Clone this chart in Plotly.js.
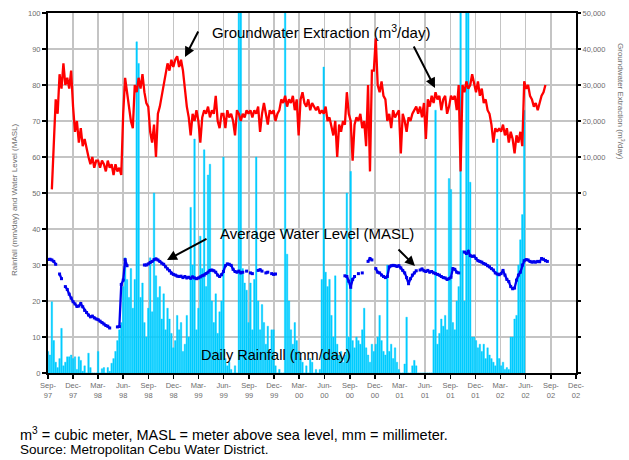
<!DOCTYPE html>
<html><head><meta charset="utf-8">
<script src="https://cdn.plot.ly/plotly-3.0.1.min.js"></script>
<style>html,body{margin:0;padding:0;background:#fff;} #chart{width:629px;height:460px;}</style>
</head><body><div id="chart"></div>
<script>
// weekly samples starting 1 Sep 1997
const startDate = '1997-09-01';
const weekMs = 7 * 24 * 3600 * 1000;

const quarterTicks = ['1997-09-01','1997-12-01','1998-03-01','1998-06-01','1998-09-01','1998-12-01',
  '1999-03-01','1999-06-01','1999-09-01','1999-12-01','2000-03-01','2000-06-01','2000-09-01','2000-12-01',
  '2001-03-01','2001-06-01','2001-09-01','2001-12-01','2002-03-01','2002-06-01','2002-09-01','2002-12-01'];
const quarterLabels = ['Sep-<br>97','Dec-<br>97','Mar-<br>98','Jun-<br>98','Sep-<br>98','Dec-<br>98',
  'Mar-<br>99','Jun-<br>99','Sep-<br>99','Dec-<br>99','Mar-<br>00','Jun-<br>00','Sep-<br>00','Dec-<br>00',
  'Mar-<br>01','Jun-<br>01','Sep-<br>01','Dec-<br>01','Mar-<br>02','Jun-<br>02','Sep-<br>02','Dec-<br>02'];

// Daily rainfall (mm/day), weekly readings
const rainfall = [
  6,5,19.8,9,3,1.5,4,12.4,2,3,4.5,4.5,5,
  4,4.5,1,4.5,3.5,0.5,2,0,5.5,1.5,0,0,0,
  6,0,1.2,1.5,0,1.5,0.5,2.7,4,6,9,12,14,
  24,32,26,21,29,18,26,92,86,21,25,14,10,
  18,32,17,50,27,21,24,15,22,12,18,15,11,
  7,9,16,12,14,6,8,16,10,46,30,65,12,
  18,38,29,62,24,55,58,20,14,22,11,17,20,
  60,4,2,3,1,0,2,0,105,105,29,25,23,
  14,25,12,26,60,20,12,19,14,8,13,6,12,
  12,2,0,1,0,0,105,33,20,12,8,14,9,
  6,4,3,0,2,0,4,3,0,1,0,1,26,
  85,28,24,26,16,10,27,8,5,6,3,5,50,
  10,56,9,7,10,9,8,12,18,7,5,3,8,
  6,8,10,16,9,6,5,30,6,8,4,7,3,
  1,0,0,2.5,15.5,0,0,2,3.5,2,0,0,0,
  0,0,0,0,0,12,73,8,11,15,13,16,12,
  54,51,14,12,20,24,105,34,20,105,105,53,10,
  10,9,7,8,6,8,4,7,5,4,3,2,65,
  4,2,3,1,1.5,1,10,10,15,16,30,37,44,
  73
];

// Average water level (MASL), weekly readings
const waterLevel = [
  31.5,31.6,31.4,31.0,30.2,null,27.5,26.2,null,24.0,23.2,21.9,20.8,
  19.8,19.2,18.5,18.6,19.3,18.4,17.4,16.8,16.1,15.6,15.8,15.3,15.0,
  14.8,14.4,14.0,13.6,13.2,13.0,12.5,null,null,null,12.8,12.9,24.6,
  25.8,31.5,29.8,null,null,null,null,null,null,null,null,30.0,30.0,
  30.3,30.7,31.0,31.5,31.7,31.4,31.0,30.5,30.2,29.5,28.9,28.4,27.7,
  27.4,27.2,26.9,26.8,26.9,26.5,26.8,26.4,26.6,26.3,26.7,26.4,26.2,
  26.4,26.7,27.0,27.2,27.6,28.0,28.5,28.6,28.4,28.0,27.2,26.8,27.3,
  28.2,29.8,30.3,30.2,29.9,28.8,28.2,28.0,28.3,27.8,28.0,null,28.3,
  null,27.8,27.6,null,null,28.5,28.7,28.3,null,27.8,28.0,null,27.6,
  27.4,27.5,null,null,null,null,null,null,null,null,null,null,null,
  null,null,null,null,null,null,null,null,null,null,null,null,null,
  null,null,null,null,null,null,null,null,null,null,null,27.0,26.8,
  25.5,23.8,26.0,26.8,null,27.6,null,27.8,null,null,31.0,31.8,31.4,
  null,29.0,28.0,27.8,27.2,26.8,26.5,26.8,29.5,29.8,29.9,29.8,29.6,
  29.8,29.2,28.5,27.8,26.5,24.8,26.2,27.2,27.8,28.4,null,28.6,28.9,
  28.4,28.2,28.5,28.0,28.2,27.8,27.6,27.4,27.2,26.8,26.5,26.4,26.0,
  26.2,26.6,29.0,28.8,28.0,27.8,null,null,33.6,33.2,33.8,32.6,32.4,
  32.5,31.8,31.2,31.0,30.8,30.4,30.2,29.8,29.5,29.0,28.6,27.8,27.5,
  27.3,27.6,28.5,27.2,26.0,25.4,24.0,23.4,23.6,25.8,27.2,28.0,30.0,
  31.2,31.5,31.4,31.0,30.8,30.9,30.8,31.0,30.9,31.8,31.6,31.2,31.0
];

// Groundwater extraction (m3/day), weekly readings
const extraction = [
  null,null,1000,16000,26000,22000,33000,29000,36000,30000,32000,29000,34000,
  24000,17000,20000,14000,18000,13000,15000,12000,10000,8000,10000,7000,9000,
  9000,7000,9000,8000,6000,9000,7000,8000,5000,8000,6000,7000,5000,
  22000,32000,28000,23000,20000,18000,30000,28000,32000,29000,33000,28000,25000,
  24000,17000,14000,19000,10000,22000,24000,27000,30000,33000,36000,34000,37000,
  35000,37000,38000,35000,37000,34000,29000,24000,21000,16000,22000,20000,23000,
  20000,14000,21000,23000,22000,24000,21000,23000,22000,27000,20000,18000,22000,
  22000,18000,23000,21000,22000,20000,16000,23000,22000,20000,22000,21000,23000,
  22000,23000,21000,23000,22000,24000,17000,22000,25000,22000,19000,23000,22000,
  23000,20000,22000,23000,26000,25000,27000,24000,26000,25000,27000,23000,26000,
  16000,26000,28000,25000,24000,26000,23000,25000,24000,23000,24000,22000,23000,
  22000,24000,20000,21000,18000,16000,20000,10000,19000,17000,20000,19000,28000,
  22000,20000,9000,19000,21000,20000,22000,18000,20000,13000,30000,6000,34000,
  34000,43000,30000,28000,31000,27000,26000,20000,22000,18000,23000,21000,22000,
  23000,11000,22000,20000,17000,21000,20000,22000,23000,24000,22000,24000,21000,
  25000,15000,26000,24000,27000,25000,28000,26000,27000,23000,26000,27000,22000,
  24000,27000,26000,27000,23000,30000,6000,30000,28000,31000,29000,30000,33000,
  30000,28000,31000,27000,29000,25000,26000,23000,22000,19000,14000,18000,17000,
  18000,17000,19000,16000,18000,14000,17000,15000,11000,16000,14000,17000,13000,
  31000,29000,30000,27000,26000,24000,25000,23000,25000,27000,28000,30000
];

const leftTicks = [0,10,20,30,40,50,60,70,80,90,100];
const rightTickVals = [-50000,-40000,-30000,-20000,-10000,0,10000,20000,30000,40000,50000];
const rightTickText = ['','','','','','0','10,000','20,000','30,000','40,000','50,000'];

const FONT = 'Arial, "Liberation Sans", sans-serif';
const GRID = '#c4c4c4';
const TICKCOL = '#6e6e6e';
const CYAN = '#00ccff';

const traces = [
  { type: 'bar', name: 'Daily Rainfall', x0: startDate, dx: weekMs, y: rainfall,
    width: 5.5 * 24 * 3600 * 1000, marker: { color: CYAN, line: { width: 0.4, color: CYAN } },
    xaxis: 'x', yaxis: 'y' },
  { type: 'scatter', mode: 'lines+markers', name: 'Average Water Level', x0: startDate, dx: weekMs,
    y: waterLevel, connectgaps: false, line: { color: '#0000ee', width: 2.3 },
    marker: { color: '#0000ee', size: 3, symbol: 'square' }, xaxis: 'x', yaxis: 'y' },
  { type: 'scatter', mode: 'lines', name: 'Groundwater Extraction', x0: startDate, dx: weekMs,
    y: extraction, connectgaps: false, line: { color: '#ff0000', width: 2.3 },
    xaxis: 'x', yaxis: 'y2' }
];

function px(x) { return (x - 48) / 528; }
function py(y) { return (373 - y) / 360; }

const arrowCommon = { xref: 'paper', yref: 'paper', axref: 'pixel', ayref: 'pixel', text: '',
  showarrow: true, arrowhead: 2, arrowsize: 1, arrowwidth: 2, arrowcolor: '#000' };

const layout = {
  width: 629, height: 460,
  margin: { l: 48, r: 53, t: 13, b: 87 },
  paper_bgcolor: '#ffffff', plot_bgcolor: '#ffffff',
  showlegend: false, bargap: 0,
  font: { family: FONT, color: '#000' },
  xaxis: {
    type: 'date', range: ['1997-09-01', '2002-12-01'],
    tickmode: 'array', tickvals: quarterTicks, ticktext: quarterLabels,
    ticks: 'outside', ticklen: 4, tickwidth: 1.5, tickcolor: '#000',
    tickfont: { size: 7.5, color: TICKCOL, family: FONT },
    showgrid: true, gridcolor: GRID, gridwidth: 1.5,
    showline: true, linecolor: '#000', linewidth: 2, mirror: true, zeroline: false
  },
  yaxis: {
    range: [0, 100], tickmode: 'array', tickvals: leftTicks,
    ticks: 'outside', ticklen: 4, tickwidth: 1.5, tickcolor: '#000',
    tickfont: { size: 7.5, color: TICKCOL, family: FONT },
    showgrid: true, gridcolor: GRID, gridwidth: 1.5,
    showline: true, linecolor: '#000', linewidth: 2, mirror: true, zeroline: false
  },
  yaxis2: {
    overlaying: 'y', side: 'right', range: [-50000, 50000],
    tickmode: 'array', tickvals: rightTickVals, ticktext: rightTickText,
    ticks: 'outside', ticklen: 4, tickwidth: 1.5, tickcolor: '#000',
    tickfont: { size: 7.5, color: TICKCOL, family: FONT },
    showgrid: false, zeroline: false, showline: false
  },
  annotations: [
    { xref: 'paper', yref: 'paper', x: px(15), y: py(200), text: 'Rainfall (mm/day) and Water Level (MASL)',
      textangle: -90, showarrow: false, xanchor: 'center', yanchor: 'middle',
      font: { size: 8, color: TICKCOL, family: FONT } },
    { xref: 'paper', yref: 'paper', x: px(621), y: py(101), text: 'Groundwater Extraction (m<sup>3</sup>/day)',
      textangle: 90, showarrow: false, xanchor: 'center', yanchor: 'middle',
      font: { size: 8, color: TICKCOL, family: FONT } },
    { xref: 'paper', yref: 'paper', x: px(321), y: py(31), text: 'Groundwater Extraction (m<sup>3</sup>/day)',
      showarrow: false, xanchor: 'center', yanchor: 'middle', font: { size: 15, color: '#000', family: FONT } },
    { xref: 'paper', yref: 'paper', x: px(316.5), y: py(233), text: 'Average Water Level (MASL)',
      showarrow: false, xanchor: 'center', yanchor: 'middle', font: { size: 15, color: '#000', family: FONT } },
    { xref: 'paper', yref: 'paper', x: px(275.5), y: py(355), text: 'Daily Rainfall (mm/day)',
      showarrow: false, xanchor: 'center', yanchor: 'middle', font: { size: 14.5, color: '#000', family: FONT } },
    Object.assign({}, arrowCommon, { x: px(185), y: py(57), ax: 14, ay: -27 }),
    Object.assign({}, arrowCommon, { x: px(435), y: py(88), ax: -22, ay: -43 }),
    Object.assign({}, arrowCommon, { x: px(167), y: py(260), ax: 41, ay: -22 }),
    Object.assign({}, arrowCommon, { x: px(415), y: py(266), ax: -18, ay: -18 }),
    { xref: 'paper', yref: 'paper', x: px(18), y: py(434), xanchor: 'left', yanchor: 'middle', showarrow: false,
      text: 'm<sup>3</sup> = cubic meter, MASL = meter above sea level, mm = millimeter.',
      font: { size: 14.5, color: '#000', family: FONT } },
    { xref: 'paper', yref: 'paper', x: px(18), y: py(450), xanchor: 'left', yanchor: 'middle', showarrow: false,
      text: 'Source: Metropolitan Cebu Water District.',
      font: { size: 13.5, color: '#000', family: FONT } }
  ]
};

Plotly.newPlot('chart', traces, layout, { staticPlot: true, displayModeBar: false });
</script>
</body></html>
